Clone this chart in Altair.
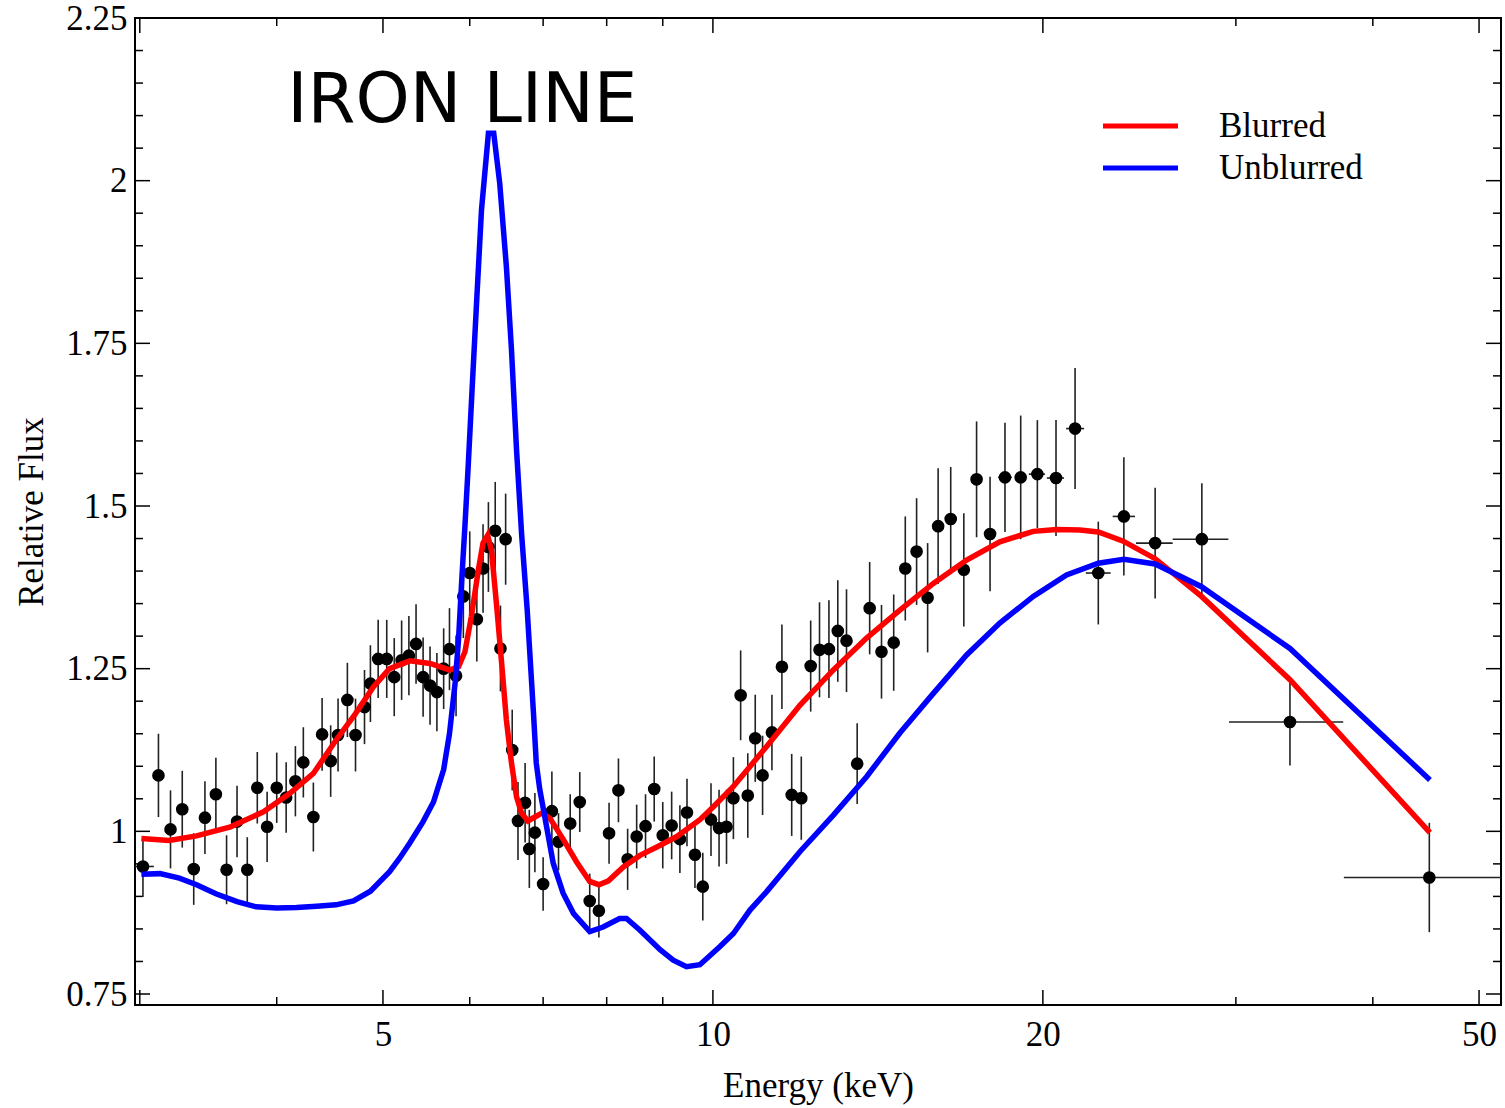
import altair as alt
import pandas as pd

# ---- measured spectrum: ratio of data to a power-law continuum ----
energy = [3.02, 3.12, 3.20, 3.28, 3.36, 3.44, 3.52, 3.60, 3.68, 3.76,
          3.84, 3.92, 4.00, 4.08, 4.16, 4.23, 4.32, 4.40, 4.48, 4.55,
          4.64, 4.72, 4.81, 4.87, 4.95, 5.04, 5.12, 5.20, 5.28, 5.36,
          5.44, 5.52, 5.60, 5.68, 5.75, 5.83, 5.92, 6.00, 6.09, 6.17,
          6.24, 6.33, 6.40, 6.47, 6.56, 6.64, 6.74, 6.80, 6.88, 7.00,
          7.13, 7.23, 7.41, 7.56, 7.72, 7.87, 8.04, 8.20, 8.36, 8.52,
          8.68, 8.84, 9.00, 9.17, 9.33, 9.47, 9.63, 9.79, 9.96, 10.13,
          10.29, 10.44, 10.60, 10.76, 10.93, 11.10, 11.32, 11.56, 11.80, 12.04,
          12.28, 12.51, 12.76, 13.00, 13.24, 13.54, 13.90, 14.25, 14.62, 14.98,
          15.34, 15.70, 16.05, 16.48, 16.94, 17.40, 17.90, 18.47, 19.09, 19.77,
          20.56, 21.40, 22.47, 23.71, 25.32, 27.93, 33.61, 45.04]
flux = [0.946, 1.086, 1.003, 1.034, 0.942, 1.021, 1.057, 0.941, 1.015, 0.941,
        1.067, 1.007, 1.067, 1.052, 1.077, 1.106, 1.022, 1.149, 1.108, 1.148,
        1.202, 1.148, 1.191, 1.227, 1.265, 1.265, 1.237, 1.263, 1.270, 1.288,
        1.237, 1.224, 1.214, 1.250, 1.280, 1.239, 1.361, 1.397, 1.326, 1.404,
        1.437, 1.462, 1.281, 1.449, 1.125, 1.016, 1.044, 0.973, 0.998, 0.919,
        1.031, 0.984, 1.012, 1.045, 0.893, 0.878, 0.997, 1.063, 0.957, 0.992,
        1.008, 1.065, 0.994, 1.009, 0.988, 1.029, 0.964, 0.915, 1.018, 1.005,
        1.007, 1.051, 1.209, 1.055, 1.143, 1.086, 1.152, 1.253, 1.056, 1.051,
        1.254, 1.279, 1.280, 1.308, 1.293, 1.104, 1.343, 1.276, 1.290, 1.404,
        1.430, 1.359, 1.469, 1.480, 1.402, 1.541, 1.457, 1.544, 1.544, 1.549,
        1.543, 1.619, 1.397, 1.484, 1.443, 1.449, 1.168, 0.929]
flux_err = [0.047, 0.064, 0.060, 0.059, 0.055, 0.056, 0.056, 0.053, 0.055, 0.050,
            0.055, 0.054, 0.054, 0.054, 0.054, 0.054, 0.053, 0.056, 0.055, 0.056,
            0.057, 0.056, 0.057, 0.059, 0.060, 0.060, 0.060, 0.061, 0.061, 0.061,
            0.061, 0.060, 0.060, 0.062, 0.063, 0.062, 0.064, 0.064, 0.065, 0.068,
            0.069, 0.075, 0.066, 0.070, 0.062, 0.060, 0.061, 0.060, 0.061, 0.041,
            0.061, 0.044, 0.045, 0.046, 0.042, 0.041, 0.047, 0.049, 0.047, 0.049,
            0.049, 0.050, 0.051, 0.052, 0.052, 0.052, 0.051, 0.052, 0.056, 0.059,
            0.057, 0.063, 0.069, 0.065, 0.067, 0.061, 0.058, 0.065, 0.063, 0.064,
            0.070, 0.073, 0.075, 0.078, 0.079, 0.062, 0.071, 0.072, 0.074, 0.080,
            0.082, 0.084, 0.089, 0.080, 0.087, 0.089, 0.088, 0.084, 0.095, 0.083,
            0.089, 0.093, 0.079, 0.091, 0.085, 0.086, 0.067, 0.084]

# energy bins wide enough to show beyond the markers
bin_energy = [3.02, 18.47, 19.77, 20.56, 21.40, 22.47, 23.71, 25.32, 27.93, 33.61, 45.04]
bin_flux = [0.946, 1.544, 1.549, 1.543, 1.619, 1.397, 1.484, 1.443, 1.449, 1.168, 0.929]
bin_lo = [2.97, 18.20, 19.42, 20.17, 21.00, 21.89, 23.16, 24.32, 26.27, 29.57, 37.64]
bin_hi = [3.09, 18.74, 20.09, 20.91, 21.81, 23.06, 24.27, 26.27, 29.53, 37.59, 53.0]

# ---- reflection models ----
blurred_e = [3.01, 3.19, 3.38, 3.63, 3.89, 4.11, 4.32, 4.53, 4.72, 4.90,
             5.07, 5.29, 5.52, 5.75, 5.86, 5.94, 6.02, 6.11, 6.17, 6.23,
             6.28, 6.35, 6.42, 6.48, 6.55, 6.62, 6.69, 6.78, 6.88, 6.98,
             7.10, 7.30, 7.51, 7.72, 7.87, 8.03, 8.28, 8.58, 8.89, 9.27,
             9.73, 10.0, 10.44, 11.19, 12.01, 12.88, 13.81, 14.81, 15.89, 17.04,
             18.27, 19.60, 20.59, 21.62, 22.47, 23.68, 25.32, 27.91, 33.61, 45.10]
blurred_f = [0.989, 0.986, 0.993, 1.007, 1.030, 1.058, 1.089, 1.140, 1.181, 1.222,
             1.250, 1.262, 1.258, 1.248, 1.253, 1.276, 1.330, 1.402, 1.443, 1.455,
             1.432, 1.345, 1.253, 1.171, 1.105, 1.053, 1.028, 1.016, 1.022, 1.028,
             1.020, 0.988, 0.953, 0.923, 0.918, 0.924, 0.945, 0.963, 0.976, 0.992,
             1.018, 1.037, 1.069, 1.130, 1.194, 1.248, 1.297, 1.340, 1.381, 1.417,
             1.445, 1.461, 1.464, 1.463, 1.460, 1.446, 1.419, 1.361, 1.233, 0.998]

unblurred_e = [3.01, 3.13, 3.26, 3.38, 3.52, 3.68, 3.83, 4.00, 4.17, 4.35,
               4.53, 4.70, 4.87, 5.07, 5.18, 5.29, 5.44, 5.56, 5.68, 5.75,
               5.82, 5.86, 5.90, 5.94, 5.98, 6.03, 6.09, 6.15, 6.24, 6.31,
               6.39, 6.48, 6.55, 6.62, 6.69, 6.77, 6.86, 6.90, 6.95, 7.06,
               7.15, 7.30, 7.46, 7.72, 7.94, 8.22, 8.34, 8.58, 8.95, 9.20,
               9.46, 9.73, 10.15, 10.44, 10.81, 11.19, 12.01, 12.88, 13.81, 14.81,
               15.89, 17.04, 18.27, 19.60, 21.02, 22.47, 23.71, 25.32, 27.91, 33.61,
               45.10]
unblurred_f = [0.934, 0.935, 0.928, 0.918, 0.904, 0.892, 0.884, 0.882, 0.883, 0.885,
               0.887, 0.893, 0.908, 0.938, 0.959, 0.982, 1.015, 1.045, 1.095, 1.150,
               1.230, 1.294, 1.386, 1.470, 1.560, 1.680, 1.820, 1.955, 2.073, 2.073,
               1.996, 1.868, 1.740, 1.586, 1.458, 1.340, 1.181, 1.105, 1.065, 1.002,
               0.951, 0.905, 0.874, 0.846, 0.853, 0.866, 0.866, 0.848, 0.818, 0.802,
               0.792, 0.795, 0.823, 0.843, 0.879, 0.907, 0.969, 1.025, 1.084, 1.151,
               1.212, 1.271, 1.320, 1.361, 1.394, 1.412, 1.418, 1.411, 1.376, 1.281,
               1.079]

model_names = ["Blurred", "Unblurred"]
model_colors = ["#ff0000", "#0000ff"]

# tick positions
x_major = [3, 5, 10, 20, 50]
x_minor = [4, 6, 7, 8, 9, 30, 40]
x_labels = [5, 10, 20, 50]
y_major = [0.75, 1.0, 1.25, 1.5, 1.75, 2.0, 2.25]
y_minor = [round(0.75 + 0.05 * i, 2) for i in range(31) if i % 5 != 0]

annotation = "IRON LINE"
annotation_e = 5.907
annotation_f = 2.09

# ---------------------------------------------------------------
W, H = 1366, 987
FONT = "Liberation Serif"

xs = alt.Scale(type="log", domain=[2.97, 52.36], nice=False, zero=False)
ys = alt.Scale(domain=[0.7331, 2.25], nice=False, zero=False)

xaxis = alt.Axis(values=x_labels, ticks=False, domain=False, grid=False,
                 labelFont=FONT, labelFontSize=35, labelPadding=12,
                 labelColor="black", title="Energy (keV)", titleFont=FONT,
                 titleFontSize=35, titleFontWeight="normal", titleColor="black",
                 titlePadding=16, labelFlush=False)
yaxis = alt.Axis(values=y_major, ticks=False, domain=False, grid=False,
                 labelExpr="format(datum.value, '.3~g')",
                 labelFont=FONT, labelFontSize=35, labelPadding=8,
                 labelColor="black", title="Relative Flux", titleFont=FONT,
                 titleFontSize=35, titleFontWeight="normal", titleColor="black",
                 titlePadding=16, labelFlush=False)

pts = pd.DataFrame({"e": energy, "f": flux,
                    "lo": [f - d for f, d in zip(flux, flux_err)],
                    "hi": [f + d for f, d in zip(flux, flux_err)]})
bins = pd.DataFrame({"e": bin_energy, "f": bin_flux, "elo": bin_lo, "ehi": bin_hi})

models = pd.concat([
    pd.DataFrame({"e": blurred_e, "f": blurred_f, "model": model_names[0]}),
    pd.DataFrame({"e": unblurred_e, "f": unblurred_f, "model": model_names[1]}),
])

vbars = alt.Chart(pts).mark_rule(color="#222222", strokeWidth=1.6, clip=True).encode(
    x=alt.X("e:Q", scale=xs, axis=xaxis),
    y=alt.Y("lo:Q", scale=ys, axis=yaxis),
    y2="hi:Q",
)
hbars = alt.Chart(bins).mark_rule(color="#222222", strokeWidth=1.6, clip=True).encode(
    x=alt.X("elo:Q", scale=xs, axis=xaxis),
    x2="ehi:Q",
    y=alt.Y("f:Q", scale=ys, axis=yaxis),
)
dots = alt.Chart(pts).mark_circle(size=160, color="black", opacity=1).encode(
    x=alt.X("e:Q", scale=xs, axis=xaxis),
    y=alt.Y("f:Q", scale=ys, axis=yaxis),
)
# legend swatch: a long flat stroke drawn by a custom path
swatch = "M-2.5,0L2.5,0"
lines = alt.Chart(models).mark_line(strokeWidth=5.5, clip=True).encode(
    x=alt.X("e:Q", scale=xs, axis=xaxis),
    y=alt.Y("f:Q", scale=ys, axis=yaxis),
    color=alt.Color("model:N",
                    scale=alt.Scale(domain=model_names, range=model_colors),
                    legend=alt.Legend(title=None, orient="none", legendX=988,
                                      legendY=90.5, symbolType=swatch,
                                      symbolSize=900, symbolStrokeWidth=5,
                                      labelFont=FONT, labelFontSize=35,
                                      labelColor="black", labelOffset=61,
                                      rowPadding=6, padding=0)),
    order=alt.Order("e:Q"),
)
label = alt.Chart(pd.DataFrame({"e": [annotation_e], "f": [annotation_f],
                                "t": [annotation]})).mark_text(
    font="DejaVu Sans", fontSize=69, align="center", baseline="alphabetic",
    color="black").encode(
    x=alt.X("e:Q", scale=xs, axis=xaxis),
    y=alt.Y("f:Q", scale=ys, axis=yaxis),
    text="t:N",
)


def xticks(values, length):
    d = pd.DataFrame({"t": values})
    base = alt.Chart(d).mark_rule(color="black", strokeWidth=1.5)
    bottom = base.encode(x=alt.X("t:Q", scale=xs, axis=xaxis),
                         y=alt.value(H), y2=alt.value(H - length))
    top = base.encode(x=alt.X("t:Q", scale=xs, axis=xaxis),
                      y=alt.value(0), y2=alt.value(length))
    return [bottom, top]


def yticks(values, length):
    d = pd.DataFrame({"t": values})
    base = alt.Chart(d).mark_rule(color="black", strokeWidth=1.5)
    left = base.encode(y=alt.Y("t:Q", scale=ys, axis=yaxis),
                       x=alt.value(0), x2=alt.value(length))
    right = base.encode(y=alt.Y("t:Q", scale=ys, axis=yaxis),
                        x=alt.value(W), x2=alt.value(W - length))
    return [left, right]


tick_layers = (xticks(x_major, 15) + xticks(x_minor, 8)
               + yticks(y_major, 15) + yticks(y_minor, 8))

chart = alt.layer(*tick_layers, vbars, hbars, dots, lines, label).properties(
    width=W, height=H,
    padding={"left": 135, "top": 18, "right": 4, "bottom": 103},
    autosize=alt.AutoSizeParams(type="none"),
    background="white",
).configure_view(stroke="black", strokeWidth=2)

chart.save("out.html", embed_options={"renderer": "svg", "actions": False})
